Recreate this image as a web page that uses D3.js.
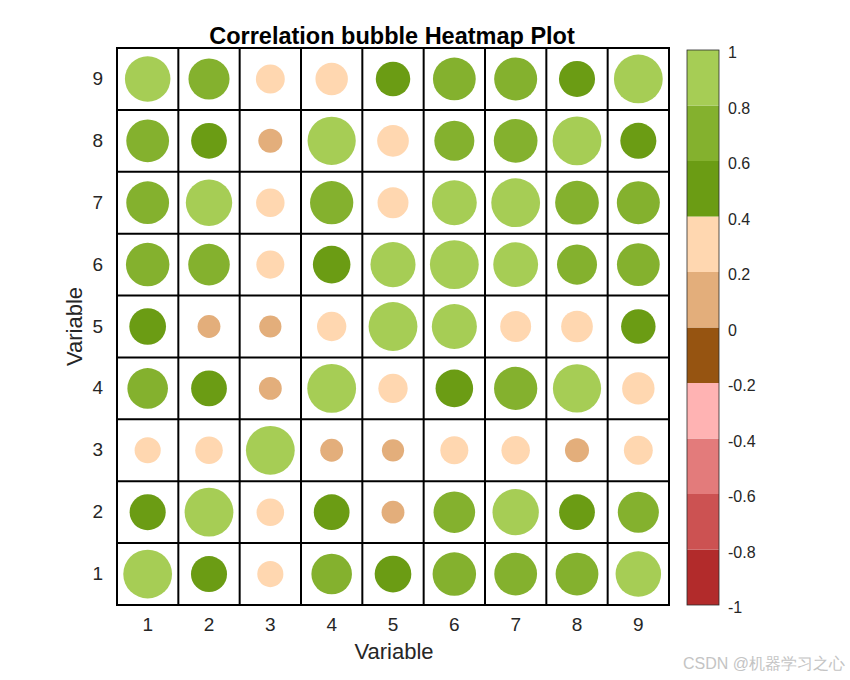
<!DOCTYPE html>
<html>
<head>
<meta charset="utf-8">
<script src="https://cdn.jsdelivr.net/npm/d3@7"></script>
<style>
  html, body { margin: 0; padding: 0; background: #ffffff; }
  svg { display: block; }
  text { font-family: "Liberation Sans", Arial, Helvetica, sans-serif; }
</style>
</head>
<body>
<svg id="chart" width="850" height="680"></svg>
<script>
// ---- data ----
const variables = [1, 2, 3, 4, 5, 6, 7, 8, 9];
const row1 = [1.00, 0.47, 0.21, 0.63, 0.49, 0.75, 0.72, 0.72, 0.84];
const row2 = [0.47, 1.00, 0.24, 0.46, 0.15, 0.67, 0.88, 0.46, 0.65];
const row3 = [0.21, 0.24, 1.00, 0.15, 0.14, 0.25, 0.26, 0.17, 0.27];
const row4 = [0.63, 0.46, 0.15, 1.00, 0.28, 0.52, 0.74, 0.97, 0.36];
const row5 = [0.49, 0.15, 0.14, 0.28, 1.00, 0.82, 0.32, 0.34, 0.42];
const row6 = [0.75, 0.67, 0.25, 0.52, 0.82, 1.00, 0.81, 0.61, 0.72];
const row7 = [0.72, 0.88, 0.26, 0.74, 0.32, 0.81, 1.00, 0.76, 0.73];
const row8 = [0.72, 0.46, 0.17, 0.97, 0.34, 0.61, 0.76, 1.00, 0.47];
const row9 = [0.84, 0.65, 0.27, 0.36, 0.42, 0.72, 0.73, 0.47, 1.00];
const colorbarTicks = [1, 0.8, 0.6, 0.4, 0.2, 0, -0.2, -0.4, -0.6, -0.8, -1];
const binEdges = [-1, -0.8, -0.6, -0.4, -0.2, 0, 0.2, 0.4, 0.6, 0.8, 1];
const binColors = ["#B22B2B", "#CC5252", "#E37B7B", "#FFB3B3", "#965411",
                   "#E3AE7B", "#FFD7B0", "#6B9C14", "#84B12E", "#A6CD55"];
const titleText = "Correlation bubble Heatmap Plot";
const axisLabel = "Variable";

const matrix = [row1, row2, row3, row4, row5, row6, row7, row8, row9];
const cells = [];
matrix.forEach((row, i) => row.forEach((v, j) => cells.push({ r: variables[i], c: variables[j], v })));

// ---- layout ----
const svg = d3.select("#chart");
const L = 117, R = 669, T = 48, B = 605;
const FONT = "'Liberation Sans', Arial, sans-serif";

const x = d3.scaleBand().domain(variables).range([L, R]).padding(0);
const y = d3.scaleBand().domain(variables.slice().reverse()).range([T, B]).padding(0);
const color = d3.scaleThreshold().domain(binEdges.slice(1, -1)).range(binColors);
const rad = d3.scalePow().exponent(0.4).domain([0, 1]).range([0, 24.4]);

svg.append("rect").attr("x", L).attr("y", T).attr("width", R - L).attr("height", B - T).attr("fill", "#fff");

// bubbles
svg.append("g").selectAll("circle").data(cells).join("circle")
  .attr("cx", d => x(d.c) + x.bandwidth() / 2)
  .attr("cy", d => y(d.r) + y.bandwidth() / 2)
  .attr("r", d => rad(Math.abs(d.v)))
  .attr("fill", d => color(d.v));

// grid
const grid = svg.append("g").attr("stroke", "#000").attr("stroke-width", 2);
variables.forEach(v => {
  grid.append("line").attr("x1", x(v)).attr("x2", x(v)).attr("y1", T).attr("y2", B);
  grid.append("line").attr("x1", L).attr("x2", R).attr("y1", y(v)).attr("y2", y(v));
});
svg.append("rect").attr("x", L).attr("y", T).attr("width", R - L).attr("height", B - T)
  .attr("fill", "none").attr("stroke", "#000").attr("stroke-width", 2);

// axes
const xAxis = svg.append("g").attr("transform", `translate(0,${B})`)
  .call(d3.axisBottom(x).tickSize(0).tickPadding(13));
xAxis.select(".domain").remove();
xAxis.selectAll("text").attr("font-size", 19).attr("fill", "#262626").attr("font-family", FONT);

const yAxis = svg.append("g").attr("transform", `translate(${L},0)`)
  .call(d3.axisLeft(y).tickSize(0).tickPadding(14));
yAxis.select(".domain").remove();
yAxis.selectAll("text").attr("font-size", 19).attr("fill", "#262626").attr("font-family", FONT);

// labels
svg.append("text").attr("x", (L + R) / 2 + 1).attr("y", 659).attr("text-anchor", "middle")
  .attr("font-size", 22).attr("fill", "#262626").text(axisLabel);
svg.append("text").attr("transform", `translate(82,${(T + B) / 2}) rotate(-90)`)
  .attr("text-anchor", "middle").attr("font-size", 22).attr("fill", "#262626").text(axisLabel);
svg.append("text").attr("x", 392).attr("y", 44).attr("text-anchor", "middle")
  .attr("font-size", 23.5).attr("font-weight", "bold").attr("fill", "#000").text(titleText);

// colorbar
const cbX = 687, cbW = 32;
const cy = d3.scaleLinear().domain([-1, 1]).range([605, 50]);
svg.append("g").selectAll("rect").data(binColors).join("rect")
  .attr("x", cbX).attr("width", cbW)
  .attr("y", (d, i) => cy(binEdges[i + 1]))
  .attr("height", (d, i) => cy(binEdges[i]) - cy(binEdges[i + 1]))
  .attr("fill", d => d);
svg.append("rect").attr("x", cbX).attr("y", 50).attr("width", cbW).attr("height", 555)
  .attr("fill", "none").attr("stroke", "#2b2b2b").attr("stroke-width", 0.8);
const cbAxis = svg.append("g").attr("transform", `translate(${cbX + cbW},0)`)
  .call(d3.axisRight(cy).tickValues(colorbarTicks).tickSize(0).tickPadding(9)
    .tickFormat(d => String(Math.round(d * 10) / 10)));
cbAxis.select(".domain").remove();
cbAxis.selectAll("text").attr("font-size", 16).attr("fill", "#262626").attr("font-family", FONT)
  .attr("dy", "0.48em");

// watermark
svg.append("text").attr("x", 845).attr("y", 669).attr("text-anchor", "end")
  .attr("font-size", 16).attr("fill", "#c4c4c4")
  .attr("font-family", "'Noto Sans CJK SC', 'Liberation Sans', sans-serif")
  .text("CSDN @机器学习之心");
</script>
</body>
</html>
